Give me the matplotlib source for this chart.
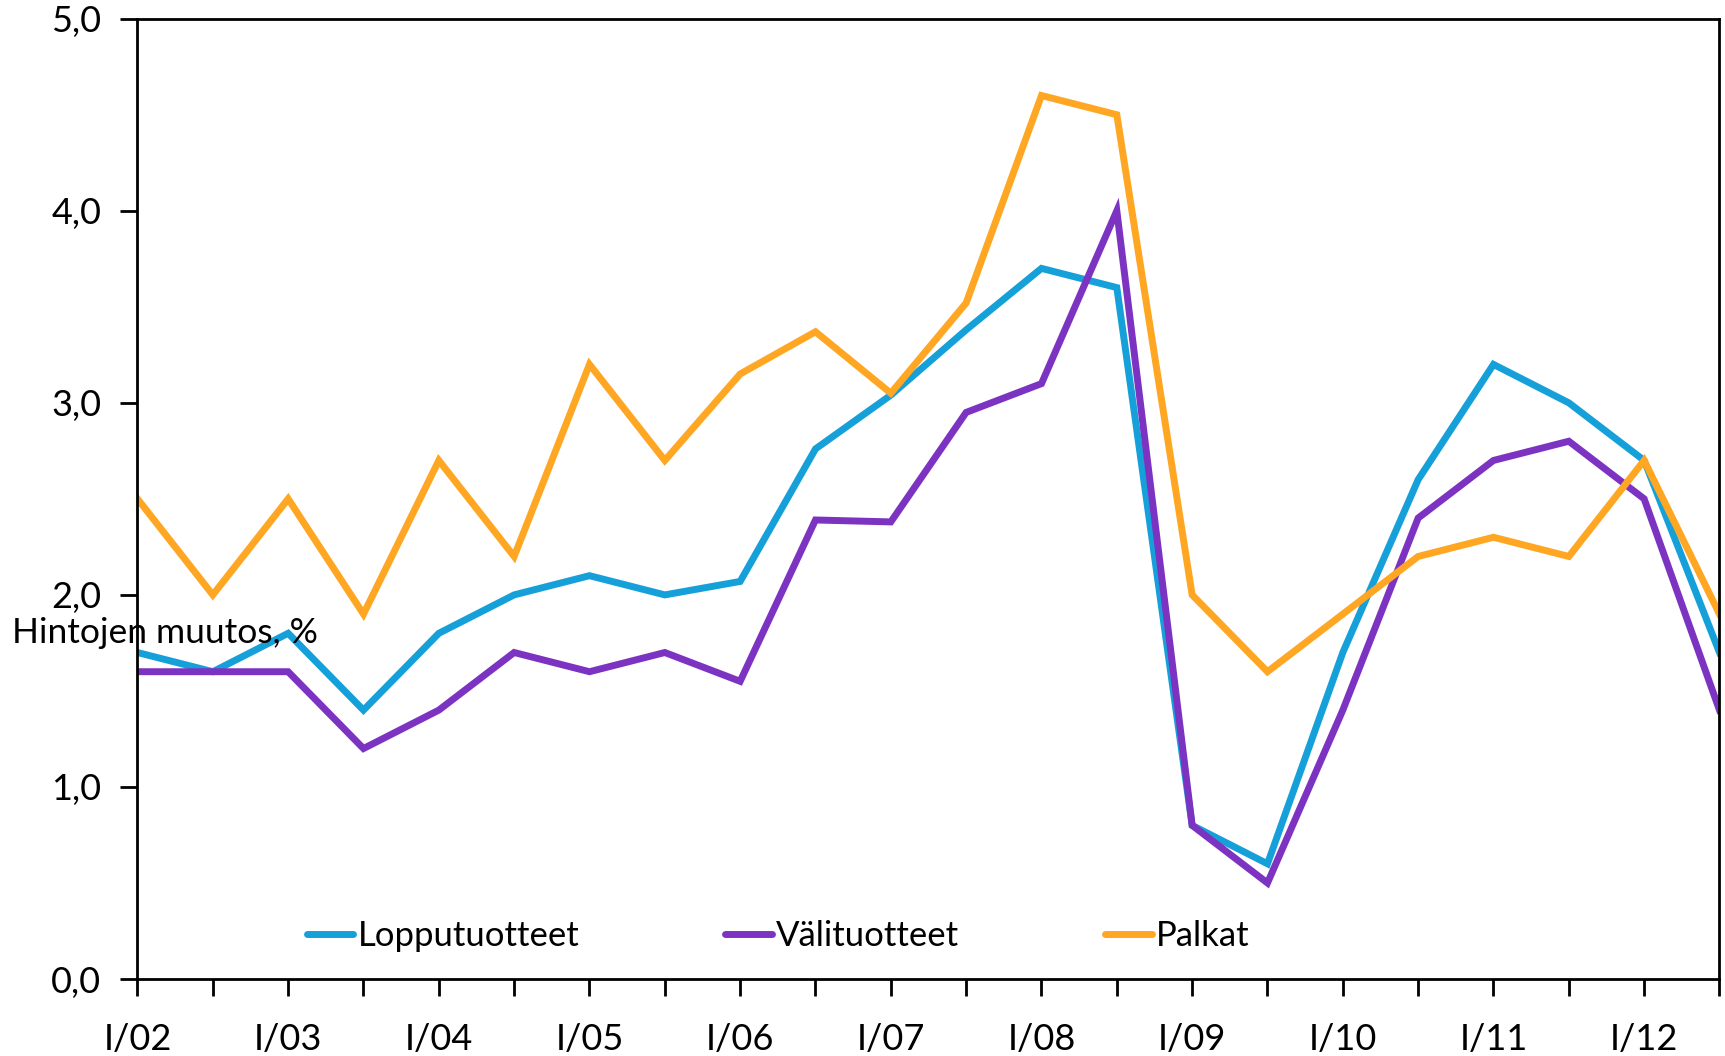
import matplotlib
matplotlib.use("Agg")
import matplotlib.pyplot as plt
from matplotlib.ticker import FuncFormatter

plt.rcParams['font.family'] = ['Lato', 'DejaVu Sans']

# kvartaalit I/02 ... II/12 (puolivuosittain)
labels = ['I/02', '', 'I/03', '', 'I/04', '', 'I/05', '', 'I/06', '', 'I/07', '',
          'I/08', '', 'I/09', '', 'I/10', '', 'I/11', '', 'I/12', '']

lopputuotteet = [1.7, 1.6, 1.8, 1.4, 1.8, 2.0, 2.1, 2.0, 2.07, 2.76, 3.04, 3.38,
                 3.7, 3.6, 0.8, 0.6, 1.7, 2.6, 3.2, 3.0, 2.7, 1.7]
valituotteet = [1.6, 1.6, 1.6, 1.2, 1.4, 1.7, 1.6, 1.7, 1.55, 2.39, 2.38, 2.95,
                3.1, 4.0, 0.8, 0.5, 1.4, 2.4, 2.7, 2.8, 2.5, 1.4]
palkat = [2.5, 2.0, 2.5, 1.9, 2.7, 2.2, 3.2, 2.7, 3.15, 3.37, 3.05, 3.52,
          4.6, 4.5, 2.0, 1.6, 1.9, 2.2, 2.3, 2.2, 2.7, 1.9]

series_names = ['Lopputuotteet', 'Välituotteet', 'Palkat']
colors = ['#16a0d9', '#7d33c1', '#ffa623']

fig = plt.figure(figsize=(17.25, 10.56), dpi=100)
ax = fig.add_axes([0.0797, 0.0729, 0.9171, 0.9094])

x = list(range(len(labels)))
for vals, name, c in zip([lopputuotteet, valituotteet, palkat], series_names, colors):
    ax.plot(x, vals, color=c, lw=5, label=name, solid_joinstyle='miter')

ax.set_xlim(0, len(labels) - 1)
ax.set_ylim(0, 5)
ax.set_yticks([0, 1, 2, 3, 4, 5])
ax.yaxis.set_major_formatter(FuncFormatter(lambda v, p: f"{v:.1f}".replace('.', ',')))
ax.set_xticks(x)
ax.set_xticklabels(labels)

for s in ax.spines.values():
    s.set_linewidth(2)
ax.tick_params(axis='both', direction='out', width=2, labelsize=26)
ax.tick_params(axis='y', length=12, pad=14)
ax.tick_params(axis='x', length=12, pad=20)

ax.text(-0.0795, 0.36, 'Hintojen muutos, %', transform=ax.transAxes, fontsize=25.5,
        va='center', ha='left')

leg = ax.legend(loc='center', bbox_to_anchor=(0.405, 0.045), ncol=3, frameon=False,
                fontsize=25, handlelength=1.35, handletextpad=0.12, columnspacing=4.2)
for h in leg.get_lines():
    h.set_solid_capstyle('round')

fig.savefig('out.png', dpi=100)
